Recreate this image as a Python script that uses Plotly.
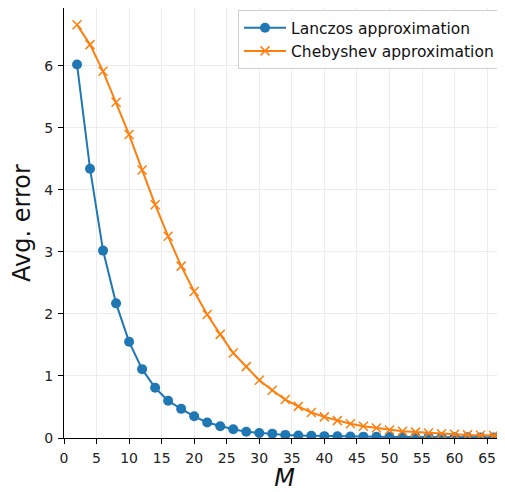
import plotly.graph_objects as go

M = list(range(2, 70, 2))
lanczos = [6.02, 4.34, 3.02, 2.17, 1.55, 1.11, 0.81, 0.60, 0.47, 0.35, 0.25, 0.19,
           0.14, 0.10, 0.08, 0.07, 0.05, 0.04, 0.035, 0.03, 0.028, 0.025, 0.022, 0.02,
           0.018, 0.016, 0.015, 0.014, 0.013, 0.012, 0.011, 0.01, 0.01, 0.01]
chebyshev = [6.66, 6.34, 5.91, 5.41, 4.89, 4.32, 3.76, 3.25, 2.77, 2.36, 1.99, 1.67,
             1.37, 1.15, 0.93, 0.77, 0.62, 0.51, 0.41, 0.34, 0.28, 0.23, 0.19, 0.16,
             0.13, 0.11, 0.095, 0.08, 0.07, 0.06, 0.05, 0.045, 0.04, 0.035]
x_ticks = list(range(0, 70, 5))
y_ticks = list(range(0, 7))

fig = go.Figure()
fig.add_trace(go.Scatter(x=M, y=lanczos, mode="lines+markers", name="Lanczos approximation",
                         line=dict(color="#1f77b4", width=2),
                         marker=dict(symbol="circle", size=10, color="#1f77b4")))
fig.add_trace(go.Scatter(x=M, y=chebyshev, mode="lines+markers", name="Chebyshev approximation",
                         line=dict(color="#ff7f0e", width=2),
                         marker=dict(symbol="x-thin", size=9, color="#ff7f0e",
                                     line=dict(color="#ff7f0e", width=1.5))))

axis_common = dict(showgrid=True, gridcolor="#ececec", gridwidth=1, zeroline=False,
                   ticks="outside", ticklen=5, tickcolor="black", showline=True,
                   linecolor="black", linewidth=1, automargin=False,
                   ticklabelstandoff=2,
                   tickfont=dict(family="DejaVu Sans", size=14, color="#222"))

# The page body has an 8px margin, so the figure is sized/offset to compensate.
fig.update_layout(
    width=497, height=484,
    margin=dict(l=56, r=0, t=0, b=54, autoexpand=False),
    plot_bgcolor="white", paper_bgcolor="white",
    font=dict(family="DejaVu Sans", color="#111"),
    xaxis=dict(range=[0, 67.75], tickmode="array", tickvals=x_ticks,
               mirror=True,
               title=dict(text="<i>M</i>", font=dict(size=24), standoff=10), **axis_common),
    yaxis=dict(range=[0, 6.93], tickmode="array", tickvals=y_ticks,
               title=dict(text="Avg. error", font=dict(size=24), standoff=22), **axis_common),
    legend=dict(x=0.9887, y=0.995, xanchor="right", yanchor="top",
                itemwidth=42, tracegroupgap=0,
                bgcolor="white", bordercolor="#d0d0d0", borderwidth=1,
                font=dict(family="DejaVu Sans", size=15.5, color="#111")),
)

fig.write_html("out.html")
